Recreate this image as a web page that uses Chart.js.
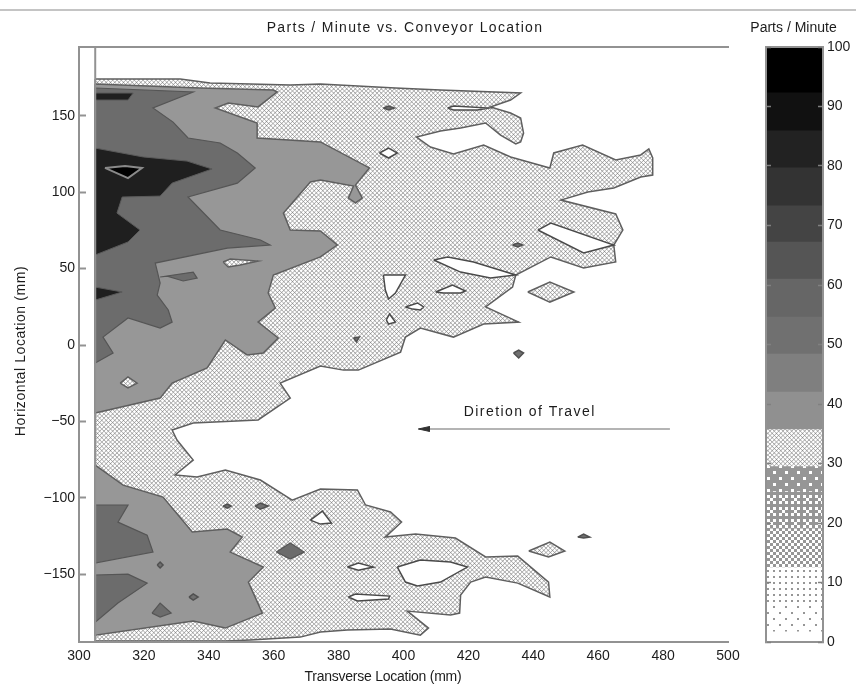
<!DOCTYPE html>
<html>
<head>
<meta charset="utf-8">
<script src="https://cdn.jsdelivr.net/npm/chart.js@4"></script>
<style>
  html, body { margin: 0; background: #fff; }
  #rule { position: absolute; left: 0; top: 9px; width: 856px; height: 2px; background: #c4c4c4; }
  #main { position: absolute; left: 0; top: 0; }
  #bar { position: absolute; left: 731px; top: 0; }
</style>
</head>
<body>
<div id="rule"></div>
<canvas id="main" width="808" height="690"></canvas>
<canvas id="bar" width="125" height="690"></canvas>
<script>
// tick labels
const xTicks = [300, 320, 340, 360, 380, 400, 420, 440, 460, 480, 500];
const yTicks = [-150, -100, -50, 0, 50, 100, 150];
const barTicks = [0, 10, 20, 30, 40, 50, 60, 70, 80, 90, 100];

// contour outlines, [transverse mm, horizontal mm]
const hatchOutline = [[305,174],[331.2,174],[340.4,171.3],[365.1,170],[374.4,170.7],[397.5,168.1],[411.4,166.8],[436.1,164.8],[433,160.2],[426.8,155.7],[433,151.7],[436.1,148.5],[437,138.6],[436.1,132.8],[434.6,131.5],[429.9,137.3],[425.3,145.2],[417.6,141.9],[411.4,140],[404,136],[408.3,129.5],[415.4,124.9],[424.7,130.8],[433,123],[445.1,115.8],[446.3,125.6],[455.2,130.8],[465.4,121],[473.1,124.3],[475.6,128.2],[476.8,122.3],[476.8,111.2],[473.1,109.9],[464.8,102.7],[456.8,100.1],[448.5,94.8],[465.4,85.7],[467.6,75.2],[464.8,65.4],[465.4,54.3],[455.5,50.4],[445.4,57.6],[434.6,45.8],[433.6,37.9],[425.3,24.9],[435.5,15],[424.7,13.7],[415.4,5.2],[405.2,11.1],[400.6,5.2],[399.1,-4.6],[386.1,-16.4],[381.5,-16.4],[374.4,-13.7],[362,-24.9],[365.1,-34.7],[355.2,-49],[335.2,-51],[328.7,-55.6],[330.2,-62.1],[335.2,-75.2],[329.6,-85],[336.4,-86.3],[345.1,-81.8],[355.9,-88.3],[365.7,-101.4],[374.4,-94.2],[385.8,-94.8],[388.3,-104.6],[396,-109.2],[399.4,-115.8],[394.4,-125.6],[403.7,-123.6],[416,-126.2],[425.3,-138.6],[435.2,-138],[444.7,-155],[445.1,-164.8],[435.2,-155.7],[425.3,-151.7],[420.7,-155],[417.6,-163.5],[417.3,-175.3],[414.5,-176.6],[401.2,-174],[407.7,-185.1],[405.2,-189.7],[396,-185.7],[382.7,-186.4],[374.4,-187.7],[368.2,-191],[352.8,-192.9],[345.1,-193.6],[305,-193.6]];
const hatchIslands = [
  [[438.3,34.7],[445.1,41.2],[452.5,34.7],[445.1,28.1]],
  [[438.6,-134.7],[445.1,-128.8],[449.7,-134.7],[444.7,-138.6]]
];
const whiteHoles = [
  [[413.6,155],[415.4,156.3],[426.2,155],[422.8,153.7],[415.4,153.7]],
  [[392.6,125.6],[395.4,128.8],[398.1,125.6],[395.4,122.3]],
  [[441.4,75.2],[445.4,79.8],[464.8,65.4],[455.5,60.2]],
  [[409.3,55.6],[413.6,57.6],[421.6,54.3],[434.6,45.8],[426.8,43.8],[417.6,47.7]],
  [[393.8,45.8],[400.6,45.8],[397.5,34],[395.4,30.1],[394.4,36]],
  [[409.9,34.7],[415.1,39.2],[419.1,35.3],[417.6,34],[412.3,34]],
  [[400.6,24.9],[404.3,27.5],[406.2,24.9],[405.2,22.9],[402.8,23.5]],
  [[394.7,16.4],[395.7,20.3],[397.5,15],[395.4,13.7]],
  [[371.3,-114.5],[375,-108.6],[377.8,-116.4],[374.4,-117.1]],
  [[382.7,-145.2],[386.1,-142.6],[390.7,-145.2],[386.1,-147.2]],
  [[398.1,-145.2],[405.2,-140.6],[414.5,-141.9],[419.7,-145.2],[411.4,-155],[404.3,-157.6],[400.6,-155]],
  [[383,-164.8],[385.2,-162.8],[395.7,-164.2],[395.4,-166.1],[385.8,-167.4]]
];
const specks = [
  [[433.9,-5.2],[435.5,-3.3],[437,-5.2],[435.5,-8.5]],
  [[453.7,-125.6],[455.5,-123.6],[457.4,-125.6],[455.5,-126.2]],
  [[393.8,155],[395.4,156.3],[397.2,155],[395.4,153.7]],
  [[433.6,65.4],[435.2,66.7],[436.7,65.4],[435.2,64.1]],
  [[384.6,4.6],[386.4,5.2],[385.5,2]],
  [[344.4,-105.3],[345.7,-104],[346.9,-105.3],[345.7,-106.6]],
  [[354.3,-105.3],[355.9,-103.3],[358.3,-105.3],[355.9,-107.3]],
  [[324.1,-143.9],[325,-141.9],[325.9,-143.9],[325,-145.8]],
  [[333.9,-164.8],[335.2,-162.8],[336.7,-164.8],[335.2,-166.8]]
];
const grayUpper = [[305,170.7],[337.3,168.1],[359.9,166.8],[361.1,165.5],[355.2,155.7],[346,158.3],[342,155],[354.9,145.2],[354.9,135.4],[374.4,132.8],[389.5,115.8],[385.2,104.6],[387.3,96.1],[385.2,92.9],[383,96.1],[384.6,104],[374.4,107.9],[371.3,106.6],[363,86.3],[365.1,75.2],[374.4,74.6],[379.6,65.4],[374.4,57.6],[359.9,45.8],[358.3,34],[360.5,24.2],[355.2,15],[361.4,4.6],[356.8,-5.2],[351.8,-6.5],[345.1,3.3],[339.5,-15],[328.7,-24.9],[325,-34.7],[305,-44.5]];
const grayLower = [[305,-78.5],[313.6,-91.6],[325.9,-99.4],[334.9,-122.3],[345.7,-120.3],[350.3,-125.6],[346.6,-135.4],[356.8,-145.2],[352.2,-155],[356.5,-175.3],[345.1,-185.1],[335.2,-180.5],[305,-189.7]];
const grayHoles = [
  [[312.7,-24.9],[315.1,-20.9],[317.9,-24.9],[315.1,-28.1]],
  [[344.4,54.3],[346.6,56.2],[355.2,54.9],[349.7,52.3],[346,51]]
];
const midRegions = [
  [[305,168.1],[335.2,165.5],[322.8,155],[329,145.8],[333.6,135.4],[343.5,132.1],[348.8,125.6],[354.3,115.8],[348.8,105.9],[333.6,96.8],[343.5,75.2],[355.9,68.7],[358.9,65.4],[345.7,63.4],[323.5,53.6],[325,40.5],[324.1,32.7],[327.5,22.9],[328.7,15],[325,11.1],[315.1,17.7],[307.4,5.2],[310.5,-5.2],[305,-11.8]],
  [[325,44.5],[335.2,47.7],[336.4,43.8],[332.1,41.9],[327.2,45.1]],
  [[305,-104.6],[315.1,-104.6],[312,-115.8],[321,-124.3],[322.8,-135.4],[305,-142.6]],
  [[305,-150.4],[315.1,-149.8],[321,-155.7],[312,-168.7],[305,-181.2]],
  [[322.5,-175.3],[325,-168.7],[328.4,-175.3],[325,-177.9]],
  [[360.8,-135.4],[365.1,-129.5],[369.4,-135.4],[365.1,-140]]
];
const darkRegions = [
  [[305,164.8],[316.7,164.8],[315.1,160.2],[305,160.2]],
  [[305,128.8],[319.8,123],[333.3,120.3],[341,115.1],[328.7,105.9],[325,97.4],[313.3,96.8],[311.7,86.3],[318.8,75.2],[315.1,67.4],[305,58.9]],
  [[305,37.9],[313.3,34.7],[305,29.4]]
];
const blackRegion = [[308,115.8],[314.2,117.1],[319.4,115.8],[315.1,109.2]];

// annotation
const arrowLine = [[482.1,-54.9],[404.6,-54.9]];
const arrowHead = [[404.6,-54.9],[408,-53.3],[408,-56.5]];
const arrowLabel = { text: "Diretion of Travel", x: 438.9, y: -43.8 };
const axisMark = [[305,-195],[305,195]];

// colour bar, band edges in parts / minute
const bandEdges = [0, 1.7, 6.3, 12.5, 19, 25.3, 29.5, 35.7, 42, 48.4, 54.6, 61, 67.2, 73.3, 79.7, 85.9, 92.3, 100];
const bandLevels = [0, 2, 4, 8, 11, 14, null, "#909090", "#7f7f7f", "#707070", "#666666", "#555555", "#444444", "#333333", "#222222", "#111111", "#000000"];

const FONT = "'Liberation Sans', Arial, sans-serif";
const INK = "#1c1c1c";
const FRAME = "#929292";

// white diamonds on gray, like the printed crosshatch
function makeHatch() {
  const c = document.createElement("canvas");
  c.width = c.height = 13;
  const g = c.getContext("2d");
  g.fillStyle = "#7e7e7e";
  g.fillRect(0, 0, 13, 13);
  g.fillStyle = "#ffffff";
  const step = 13 / 3;
  for (let i = -1; i < 4; i++) {
    for (let j = -1; j < 4; j++) {
      for (const off of [0, 0.5]) {
        const px = (i + off) * step, py = (j + off) * step;
        g.beginPath();
        g.moveTo(px - 1.85, py);
        g.lineTo(px, py - 1.85);
        g.lineTo(px + 1.85, py);
        g.lineTo(px, py + 1.85);
        g.fill();
      }
    }
  }
  return g.createPattern(c, "repeat");
}

// ordered dither for the light end of the colour bar
const bayer = [0, 8, 2, 10, 12, 4, 14, 6, 3, 11, 1, 9, 15, 7, 13, 5];
function makeDither(level) {
  const c = document.createElement("canvas");
  c.width = c.height = 12;
  const g = c.getContext("2d");
  g.fillStyle = "#ffffff";
  g.fillRect(0, 0, 12, 12);
  g.fillStyle = "#969696";
  const dot = level >= 8 ? 3 : 2;
  for (let i = 0; i < 16; i++) {
    if (bayer[i] < level) {
      g.fillRect((i % 4) * 3, Math.floor(i / 4) * 3, dot, dot);
    }
  }
  return g.createPattern(c, "repeat");
}

const hatch = makeHatch();

function poly(points, fill, line, width) {
  return {
    data: points.concat([points[0]]).map(p => ({ x: p[0], y: p[1] })),
    showLine: true,
    pointRadius: 0,
    tension: 0,
    fill: "shape",
    backgroundColor: fill,
    borderColor: line,
    borderWidth: width === undefined ? 1.5 : width
  };
}
function stroke(points, line, width) {
  return {
    data: points.map(p => ({ x: p[0], y: p[1] })),
    showLine: true,
    pointRadius: 0,
    fill: false,
    borderColor: line,
    borderWidth: width
  };
}

// listed bottom layer first, chart.js paints the first dataset last
const OUT = "#5f5f5f";
const layers = [poly(hatchOutline, hatch, OUT)];
hatchIslands.forEach(p => layers.push(poly(p, hatch, OUT)));
whiteHoles.forEach(p => layers.push(poly(p, "#ffffff", "#4a4a4a")));
layers.push(poly(grayUpper, "#979797", OUT));
layers.push(poly(grayLower, "#979797", OUT));
grayHoles.forEach(p => layers.push(poly(p, hatch, OUT)));
midRegions.forEach(p => layers.push(poly(p, "#6c6c6c", "#555555", 1.2)));
specks.forEach(p => layers.push(poly(p, "#707070", "#505050")));
darkRegions.forEach(p => layers.push(poly(p, "#1f1f1f", "#5a5a5a", 1)));
layers.push(poly(blackRegion, "#000000", "#8a8a8a", 2));
layers.push(stroke(arrowLine, "#6a6a6a", 1.2));
layers.push(poly(arrowHead, "#333333", "#333333", 1));
layers.push(stroke(axisMark, FRAME, 2));

const axisFont = { family: FONT, size: 14 };

// spaced out labels, the source has wide letter spacing and an off centre x title
function spaced(ctx, text, x, y, spacing, angle) {
  ctx.save();
  ctx.translate(x, y);
  if (angle) ctx.rotate(angle);
  ctx.font = "14px " + FONT;
  ctx.fillStyle = INK;
  ctx.textAlign = "center";
  ctx.textBaseline = "middle";
  ctx.letterSpacing = spacing + "px";
  ctx.fillText(text, 0, 0);
  ctx.restore();
}

const labels = {
  id: "labels",
  afterDraw(chart) {
    const { ctx, scales } = chart;
    spaced(ctx, "Parts / Minute vs. Conveyor Location", 405, 28, 1.33);
    spaced(ctx, "Transverse Location (mm)", 383, 677, -0.25);
    spaced(ctx, "Horizontal Location (mm)", 21, 351, 0.58, -Math.PI / 2);
    spaced(ctx, arrowLabel.text, scales.x.getPixelForValue(arrowLabel.x), scales.y.getPixelForValue(arrowLabel.y), 1.44);
  }
};

new Chart(document.getElementById("main"), {
  type: "scatter",
  data: { datasets: layers.reverse() },
  plugins: [labels],
  options: {
    responsive: false,
    animation: false,
    layout: { padding: { top: 47, right: 80 } },
    plugins: {
      legend: { display: false },
      tooltip: { enabled: false }
    },
    scales: {
      x: {
        type: "linear",
        min: 300,
        max: 500,
        afterBuildTicks: s => { s.ticks = xTicks.map(v => ({ value: v })); },
        afterFit: s => { s.height = 48; },
        grid: { display: true, drawOnChartArea: false, drawTicks: false },
        border: { color: FRAME, width: 2, z: 1 },
        ticks: { color: INK, font: axisFont, padding: 6, maxRotation: 0, autoSkip: false }
      },
      top: {
        type: "linear",
        position: "top",
        afterFit: s => { s.height = 0; },
        grid: { drawOnChartArea: false, drawTicks: false },
        border: { color: FRAME, width: 2, z: 1 },
        ticks: { display: false }
      },
      y: {
        type: "linear",
        min: -194.2,
        max: 194.9,
        afterBuildTicks: s => { s.ticks = yTicks.map(v => ({ value: v })); },
        afterFit: s => { s.width = 79; },
        grid: { drawOnChartArea: false, tickLength: -7, tickColor: FRAME, tickWidth: 2, z: 1 },
        border: { color: FRAME, width: 2, z: 1 },
        ticks: { color: INK, font: axisFont, padding: 11, callback: v => String(v).replace("-", "\u2212") }
      }
    }
  }
});

// colour bar
const bandDatasets = bandLevels.map((lvl, i) => ({
  data: [[bandEdges[i], bandEdges[i + 1]]],
  backgroundColor: lvl === null ? hatch : typeof lvl === "number" ? makeDither(lvl) : lvl,
  borderWidth: 0,
  barPercentage: 1,
  categoryPercentage: 1,
  grouped: false
}));

const barTickGrid = { drawOnChartArea: false, tickLength: -5, tickColor: "#808080", tickWidth: 1.5, z: 1 };

new Chart(document.getElementById("bar"), {
  type: "bar",
  data: { labels: [""], datasets: bandDatasets },
  options: {
    responsive: false,
    animation: false,
    plugins: {
      legend: { display: false },
      tooltip: { enabled: false },
      title: {
        display: true,
        text: "Parts / Minute",
        color: INK,
        font: { family: FONT, size: 14, weight: "normal", lineHeight: 1.2 },
        padding: { top: 20, bottom: 10.2 }
      }
    },
    scales: {
      x: {
        afterFit: s => { s.height = 48; },
        grid: { drawOnChartArea: false, drawTicks: false },
        border: { color: FRAME, width: 2, z: 1 },
        ticks: { display: false }
      },
      top: {
        type: "linear",
        position: "top",
        afterFit: s => { s.height = 0; },
        grid: { drawOnChartArea: false, drawTicks: false },
        border: { color: FRAME, width: 2, z: 1 },
        ticks: { display: false }
      },
      yLeft: {
        type: "linear",
        position: "left",
        min: 0,
        max: 100,
        afterBuildTicks: s => { s.ticks = barTicks.map(v => ({ value: v })); },
        afterFit: s => { s.width = 35; },
        grid: barTickGrid,
        border: { color: FRAME, width: 2, z: 1 },
        ticks: { display: false }
      },
      y: {
        type: "linear",
        position: "right",
        min: 0,
        max: 100,
        afterBuildTicks: s => { s.ticks = barTicks.map(v => ({ value: v })); },
        afterFit: s => { s.width = 33; },
        grid: barTickGrid,
        border: { color: FRAME, width: 2, z: 1 },
        ticks: { color: INK, font: axisFont, padding: 9, autoSkip: false }
      }
    }
  }
});
</script>
</body>
</html>
